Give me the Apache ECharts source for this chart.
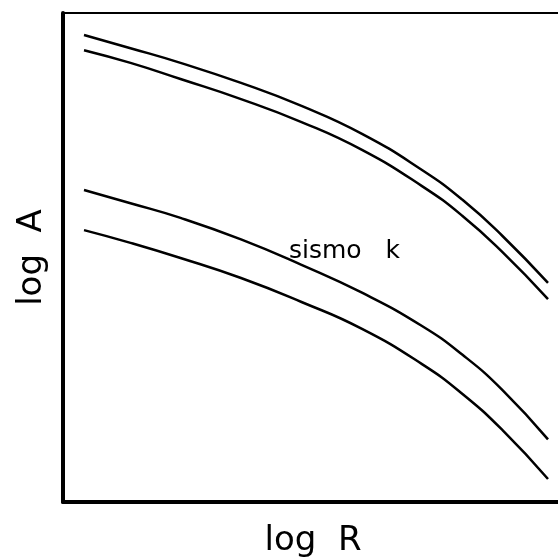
<!DOCTYPE html>
<html>
<head>
<meta charset="utf-8">
<script src="https://cdn.jsdelivr.net/npm/echarts@6/dist/echarts.min.js"></script>
<style>
	html, body { margin: 0; padding: 0; background: #fff; }
	#chart { width: 558px; height: 558px; }
</style>
</head>
<body>
<div id="chart"></div>
<script>
	// log R positions shared by all four curves
	var logR = [0.42, 1.35, 2.35, 3.56, 4.77, 5.98, 7.18, 7.99, 8.79, 9.70];

	// log A values of each curve, top to bottom
	var curveA1 = [9.55, 9.28, 8.98, 8.57, 8.10, 7.53, 6.79, 6.18, 5.44, 4.48];
	var curveA2 = [9.24, 8.98, 8.65, 8.24, 7.77, 7.20, 6.46, 5.85, 5.11, 4.15];
	var curveB1 = [6.38, 6.11, 5.81, 5.37, 4.85, 4.28, 3.60, 3.01, 2.29, 1.28];
	var curveB2 = [5.56, 5.30, 4.99, 4.58, 4.09, 3.54, 2.82, 2.21, 1.47, 0.47];

	var curves = [curveA1, curveA2, curveB1, curveB2];

	var FONT = "DejaVu Sans";

	function pairs(xs, ys)
	{
		var re = [];
		for(var i=0; i<xs.length; i++)
			re.push([xs[i], ys[i]]);
		return re;
	}

	var series = [];
	for(var i=0; i<curves.length; i++)
	{
		series.push({
			type: "line",
			data: pairs(logR, curves[i]),
			smooth: 0.5,
			showSymbol: false,
			lineStyle: { color: "#000", width: 2.5 },
			silent: true
		});
	}

	var chart = echarts.init(document.getElementById("chart"));

	chart.setOption({
		animation: false,
		backgroundColor: "#fff",
		grid: {
			left: 63, right: -5, top: 13, bottom: 56,
			outerBoundsMode: "none",
			containLabel: false,
			show: true,
			borderColor: "#000",
			borderWidth: 2,
			backgroundColor: "transparent"
		},
		xAxis: {
			type: "value",
			min: 0, max: 10,
			name: "log  R",
			nameLocation: "middle",
			nameGap: 22,
			nameTextStyle: { fontFamily: FONT, fontSize: 34, color: "#000" },
			axisLine: { show: true, onZero: false, lineStyle: { color: "#000", width: 4 } },
			axisTick: { show: false },
			axisLabel: { show: false },
			splitLine: { show: false }
		},
		yAxis: {
			type: "value",
			min: 0, max: 10,
			name: "log  A",
			nameLocation: "middle",
			nameGap: 14,
			nameTextStyle: { fontFamily: FONT, fontSize: 34, color: "#000" },
			axisLine: { show: true, onZero: false, lineStyle: { color: "#000", width: 4 } },
			axisTick: { show: false },
			axisLabel: { show: false },
			splitLine: { show: false }
		},
		graphic: [{
			type: "text",
			left: 289,
			top: 239,
			style: {
				text: "sismo   k",
				fontFamily: FONT,
				fontSize: 25,
				fill: "#000"
			}
		}],
		series: series
	});
</script>
</body>
</html>
